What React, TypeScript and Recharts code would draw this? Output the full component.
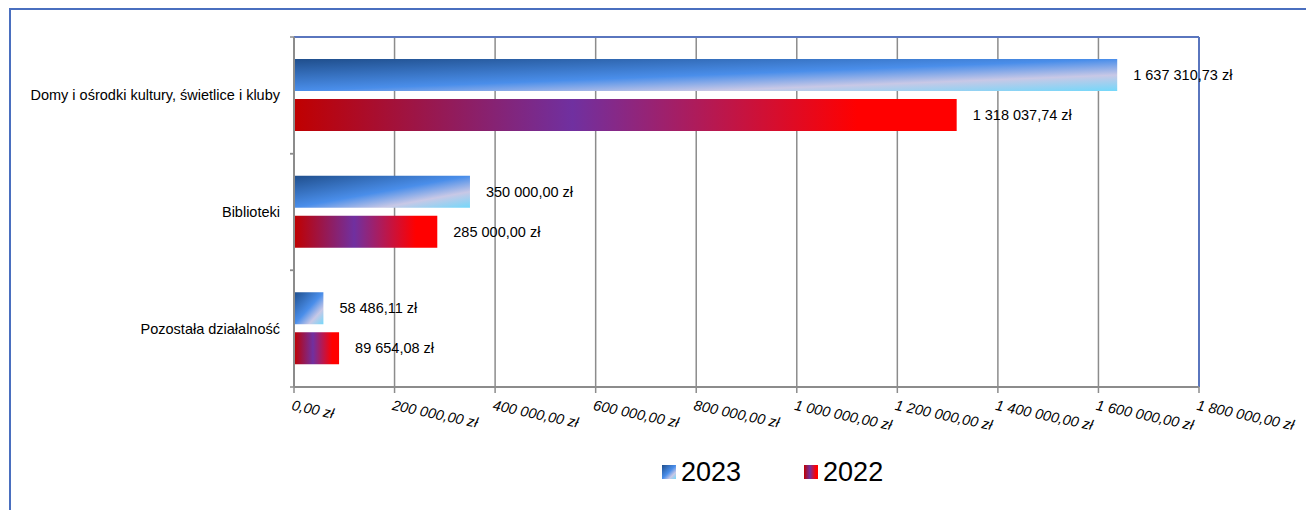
import React from 'react';
import { BarChart, Bar, XAxis, YAxis, CartesianGrid, LabelList, Legend, ReferenceLine } from 'recharts';

const categories = [
  'Domy i ośrodki kultury, świetlice i kluby',
  'Biblioteki',
  'Pozostała działalność',
];
const values2023 = [1637310.73, 350000.0, 58486.11];
const values2022 = [1318037.74, 285000.0, 89654.08];
const xTicks = [0, 200000, 400000, 600000, 800000, 1000000, 1200000, 1400000, 1600000, 1800000];
const seriesNames = ['2023', '2022'];

const data = categories.map((c, i) => ({ name: c, y2023: values2023[i], y2022: values2022[i] }));

const FONT = '"Liberation Sans", Arial, sans-serif';
const GRID = '#8c8c8c';
const FRAME = '#5A76BE';

function formatPLN(v: number): string {
  const [intPart, dec] = Math.abs(v).toFixed(2).split('.');
  const grouped = intPart.replace(/\B(?=(\d{3})+(?!\d))/g, ' ');
  return `${v < 0 ? '-' : ''}${grouped},${dec} zł`;
}

const XTick = (props: any) => {
  const { x, y, payload } = props;
  return (
    <text
      x={x}
      y={y}
      dy={15}
      transform={`rotate(12 ${x} ${y})`}
      textAnchor="start"
      fontFamily={FONT}
      fontSize={14.5}
      fontStyle="italic"
      fill="#000"
    >
      {formatPLN(payload.value)}
    </text>
  );
};

const YTick = (props: any) => {
  const { x, y, payload } = props;
  const off = payload.offset || 0;
  return (
    <g>
      <line x1={x - 4} x2={x} y1={y - off} y2={y - off} stroke={GRID} strokeWidth={1.5} />
      <line x1={x - 4} x2={x} y1={y + off} y2={y + off} stroke={GRID} strokeWidth={1.5} />
      <text
        x={x - 14}
        y={y}
        dy={5}
        textAnchor="end"
        fontFamily={FONT}
        fontSize={14.5}
        fill="#000"
      >
        {payload.value}
      </text>
    </g>
  );
};

const LegendContent = () => (
  <div style={{ display: 'flex', alignItems: 'center', height: 40, fontFamily: FONT, fontSize: 27, color: '#000' }}>
    <span
      style={{
        display: 'inline-block',
        width: 14,
        height: 14,
        background: 'linear-gradient(135deg, #1F4E8C 0%, #4A8EEA 50%, #C8C8E6 75%, #74D8FA 100%)',
      }}
    />
    <span style={{ marginLeft: 5, lineHeight: '40px' }}>{seriesNames[0]}</span>
    <span
      style={{
        display: 'inline-block',
        width: 14,
        height: 14,
        marginLeft: 63,
        background: 'linear-gradient(90deg, #C00000 0%, #7030A0 42%, #FF0000 85%, #FF0000 100%)',
      }}
    />
    <span style={{ marginLeft: 5, lineHeight: '40px' }}>{seriesNames[1]}</span>
  </div>
);

export default function App() {
  return (
    <div
      style={{
        width: 1305,
        height: 502,
        marginLeft: 1,
        borderTop: '2px solid #4A6FBF',
        borderLeft: '2px solid #4A6FBF',
        boxSizing: 'border-box',
        position: 'relative',
        background: '#fff',
      }}
    >
      <BarChart
        width={1300}
        height={490}
        data={data}
        layout="vertical"
        margin={{ top: 27, right: 112, bottom: 13, left: 0 }}
        barSize={32}
        barGap={8}
        style={{ position: 'absolute', left: 0, top: 0 }}
      >
        <defs>
          <linearGradient id="grad2023" x1="0" y1="0" x2="1" y2="1">
            <stop offset="0%" stopColor="#1F4E8C" />
            <stop offset="50%" stopColor="#4A8EEA" />
            <stop offset="75%" stopColor="#C8C8E6" />
            <stop offset="100%" stopColor="#74D8FA" />
          </linearGradient>
          <linearGradient id="grad2022" x1="0" y1="0" x2="1" y2="0">
            <stop offset="0%" stopColor="#C00000" />
            <stop offset="42%" stopColor="#7030A0" />
            <stop offset="85%" stopColor="#FF0000" />
            <stop offset="100%" stopColor="#FF0000" />
          </linearGradient>
        </defs>
        <CartesianGrid vertical={true} horizontal={false} stroke={GRID} strokeWidth={1.5} />
        <CartesianGrid
          vertical={false}
          horizontal={true}
          stroke={FRAME}
          strokeWidth={2}
          horizontalCoordinatesGenerator={(p: any) => [p.offset.top]}
        />
        <XAxis
          type="number"
          domain={[0, 1800000]}
          ticks={xTicks}
          interval={0}
          height={60}
          tick={<XTick />}
          tickSize={6}
          tickMargin={2}
          tickLine={{ stroke: GRID, strokeWidth: 1.5 }}
          axisLine={{ stroke: GRID, strokeWidth: 2 }}
        />
        <YAxis
          type="category"
          dataKey="name"
          width={283}
          tick={<YTick />}
          tickLine={false}
          tickSize={0}
          tickMargin={0}
          axisLine={{ stroke: GRID, strokeWidth: 2 }}
        />
        <ReferenceLine x={1800000} stroke={FRAME} strokeWidth={2} />
        <Bar dataKey="y2023" name={seriesNames[0]} fill="url(#grad2023)" isAnimationActive={false}>
          <LabelList
            dataKey="y2023"
            position="right"
            offset={16}
            formatter={(v: any) => formatPLN(Number(v))}
            style={{ fontFamily: FONT, fontSize: 14.5, fill: '#000' }}
          />
        </Bar>
        <Bar dataKey="y2022" name={seriesNames[1]} fill="url(#grad2022)" isAnimationActive={false}>
          <LabelList
            dataKey="y2022"
            position="right"
            offset={16}
            formatter={(v: any) => formatPLN(Number(v))}
            style={{ fontFamily: FONT, fontSize: 14.5, fill: '#000' }}
          />
        </Bar>
        <Legend
          content={<LegendContent />}
          wrapperStyle={{ position: 'absolute', left: 651, top: 442, width: 320, height: 40 }}
        />
      </BarChart>
    </div>
  );
}
